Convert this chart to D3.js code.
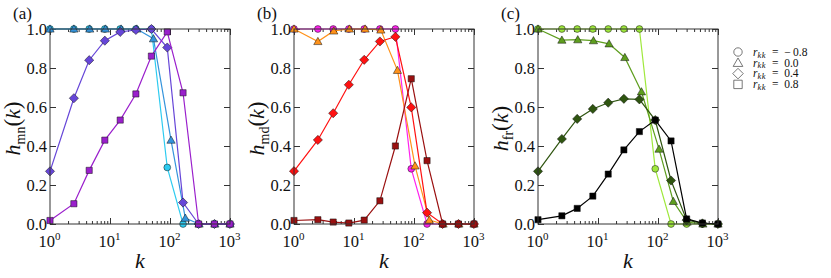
<!DOCTYPE html>
<meta charset="utf-8">
<head>
<script src="https://cdn.jsdelivr.net/npm/d3@7"></script>
<style>
body { margin: 0; background: #fff; }
.tick line { stroke: #333; }
.domain { display: none; }
</style>
</head>
<body>
<script>
// k values (bin centres)
var kBase = [1, 2.5, 4.5, 8.2, 14.8, 27, 49, 90, 165, 300, 550, 1000];
var kTri  = [1, 2.5, 4.6, 8.4, 15.3, 28, 53, 104, 180, 305, 560, 1000];

// (a) h_mn
var hmnCircle   = [1, 1, 1, 1, 1, 1, 1, 0.29, 0, 0, 0, 0];
var hmnTriangle = [1, 1, 1, 1, 1, 1, 0.95, 0.43, 0.03, 0, 0, 0];
var hmnDiamond  = [0.27, 0.645, 0.84, 0.94, 0.985, 0.995, 1.0, 0.905, 0.11, 0, 0, 0];
var hmnSquare   = [0.018, 0.104, 0.275, 0.43, 0.533, 0.667, 0.861, 0.985, 0.673, 0, 0, 0];

// (b) h_md
var hmdCircle   = [1, 1, 1, 1, 1, 1, 1, 0.283, 0, 0, 0, 0];
var hmdTriangle = [1, 0.936, 0.99, 1, 1, 0.995, 0.788, 0.298, 0.02, 0, 0, 0];
var hmdDiamond  = [0.271, 0.431, 0.568, 0.714, 0.842, 0.936, 0.96, 0.598, 0.058, 0, 0, 0];
var hmdSquare   = [0.018, 0.022, 0.01, 0.005, 0.02, 0.119, 0.40, 0.745, 0.325, 0, 0, 0];

// (c) h_fr
var hfrCircle   = [1, 1, 1, 1, 1, 1, 1, 0.283, 0, 0, 0, 0];
var hfrTriangle = [1, 0.943, 0.945, 0.94, 0.924, 0.854, 0.678, 0.384, 0.116, 0.01, 0, 0];
var hfrDiamond  = [0.27, 0.436, 0.539, 0.59, 0.622, 0.642, 0.639, 0.533, 0.223, 0.02, 0.003, 0];
var hfrSquare   = [0.022, 0.042, 0.08, 0.143, 0.256, 0.38, 0.474, 0.533, 0.426, 0.026, 0.005, 0];

var colorsA = ["#2ccbf0", "#3594dc", "#6646d8", "#9a1fcc"];
var colorsB = ["#ff22ee", "#ff921a", "#ff1111", "#9a1010"];
var colorsC = ["#9fe83c", "#5e9e1e", "#2f5510", "#000000"];

var shapes = ["circle", "triangle", "diamond", "square"];
var legendLabels = ["\u2212\u20090.8", "0.0", "0.4", "0.8"];
var yTicks = [0, 0.2, 0.4, 0.6, 0.8, 1.0];
var xTicks = [1, 10, 100, 1000];

var W = 831, H = 278;
var plotTop = 29, plotBottom = 224, plotW = 180;
var serif = "'Liberation Serif', 'Times New Roman', serif";

var panels = [
  {left: 50,  tag: "(a)", sub: "mn", ys: [hmnCircle, hmnTriangle, hmnDiamond, hmnSquare], colors: colorsA},
  {left: 294, tag: "(b)", sub: "md", ys: [hmdCircle, hmdTriangle, hmdDiamond, hmdSquare], colors: colorsB},
  {left: 538, tag: "(c)", sub: "fr", ys: [hfrCircle, hfrTriangle, hfrDiamond, hfrSquare], colors: colorsC}
];

function shapePath(type, s) {
  if (type == "circle") return "M" + s + ",0A" + s + "," + s + " 0 1,1 " + (-s) + ",0A" + s + "," + s + " 0 1,1 " + s + ",0Z";
  if (type == "square") return "M" + (-s) + "," + (-s) + "H" + s + "V" + s + "H" + (-s) + "Z";
  if (type == "diamond") { var d = s * 1.35; return "M0," + (-d) + "L" + d + ",0L0," + d + "L" + (-d) + ",0Z"; }
  var t = s * 1.15;
  return "M0," + (-t) + "L" + t + "," + (t * 0.75) + "L" + (-t) + "," + (t * 0.75) + "Z";
}
var markerSize = {circle: 3.4, triangle: 3.6, diamond: 3.4, square: 3.1};

var svg = d3.select("body").append("svg")
    .attr("width", W)
    .attr("height", H);

var minor = [];
[1, 10, 100].forEach(function(b) { for (var m = 2; m <= 9; m++) minor.push(b * m); });

panels.forEach(function(p) {
  var x = d3.scaleLog().domain([1, 1000]).range([p.left, p.left + plotW]);
  var y = d3.scaleLinear().domain([0, 1]).range([plotBottom, plotTop]);

  var g = svg.append("g");

  // ticks, inward on all sides
  g.append("g").attr("transform", "translate(0," + plotBottom + ")")
    .call(d3.axisBottom(x).tickValues(xTicks).tickSizeInner(-6).tickSizeOuter(0).tickPadding(11).tickFormat(""))
    .selectAll(".tick text").each(function(d) {
      var t = d3.select(this).style("font-size", "16.5px").attr("dx", "-1");
      t.append("tspan").text("10");
      t.append("tspan").attr("dy", "-7").style("font-size", "11px").text(Math.round(Math.log10(d)));
    });
  g.append("g").attr("transform", "translate(0," + plotBottom + ")")
    .call(d3.axisBottom(x).tickValues(minor).tickSizeInner(-3).tickSizeOuter(0).tickFormat(""));
  g.append("g").attr("transform", "translate(0," + plotTop + ")")
    .call(d3.axisTop(x).tickValues(xTicks).tickSizeInner(-6).tickSizeOuter(0).tickFormat(""));
  g.append("g").attr("transform", "translate(0," + plotTop + ")")
    .call(d3.axisTop(x).tickValues(minor).tickSizeInner(-3).tickSizeOuter(0).tickFormat(""));
  g.append("g").attr("transform", "translate(" + p.left + ",0)")
    .call(d3.axisLeft(y).tickValues(yTicks).tickSizeInner(-6).tickSizeOuter(0).tickPadding(3).tickFormat(d3.format(".1f")))
    .selectAll("text").style("font-size", "16.5px");
  g.append("g").attr("transform", "translate(" + (p.left + plotW) + ",0)")
    .call(d3.axisRight(y).tickValues(yTicks).tickSizeInner(-6).tickSizeOuter(0).tickFormat(""));

  // series
  p.ys.forEach(function(vals, si) {
    var ks = si == 1 ? kTri : kBase;
    var pts = vals.map(function(v, i) { return [ks[i], v]; });
    var line = d3.line().x(function(d) { return x(d[0]); }).y(function(d) { return y(d[1]); });
    g.append("path").datum(pts)
      .attr("d", line)
      .attr("fill", "none")
      .attr("stroke", p.colors[si])
      .attr("stroke-width", 1.2);
    g.selectAll(".m" + si).data(pts).enter().append("path")
      .attr("transform", function(d) { return "translate(" + x(d[0]) + "," + y(d[1]) + ")"; })
      .attr("d", shapePath(shapes[si], markerSize[shapes[si]]))
      .attr("fill", p.colors[si])
      .attr("stroke", "#111")
      .attr("stroke-width", 0.5);
  });

  // frame
  g.append("rect")
    .attr("x", p.left).attr("y", plotTop)
    .attr("width", plotW).attr("height", plotBottom - plotTop)
    .attr("fill", "none").attr("stroke", "#333").attr("stroke-width", 1);

  // labels
  svg.append("text").attr("x", p.left - 37).attr("y", 19)
    .style("font-size", "17px").text(p.tag);

  svg.append("text").attr("x", p.left + plotW / 2).attr("y", 268)
    .attr("text-anchor", "middle")
    .style("font-size", "22px").style("font-style", "italic").text("k");

  var yl = svg.append("text")
    .attr("transform", "translate(" + (p.left - 30) + "," + ((plotTop + plotBottom) / 2 + 2) + ")rotate(-90)")
    .attr("text-anchor", "middle")
    .style("font-size", "22px");
  yl.append("tspan").style("font-style", "italic").text("h");
  yl.append("tspan").attr("dy", 5).style("font-size", "14px").text(p.sub);
  yl.append("tspan").attr("dy", -5).style("font-size", "23px").text("(");
  yl.append("tspan").style("font-style", "italic").text("k");
  yl.append("tspan").style("font-size", "23px").text(")");
});

// legend
var lg = svg.append("g").attr("transform", "translate(738,52)");
shapes.forEach(function(s, i) {
  var row = lg.append("g").attr("transform", "translate(0," + (i * 10.8) + ")");
  row.append("path")
    .attr("d", shapePath(s, s == "diamond" ? 3.9 : 4.2))
    .attr("fill", "#fff").attr("stroke", "#555").attr("stroke-width", 0.8);
  var t = row.append("text").attr("x", 15).attr("y", 3.8).style("font-size", "11.5px");
  t.append("tspan").style("font-style", "italic").text("r");
  t.append("tspan").attr("dy", 1.8).style("font-size", "8.5px").style("font-style", "italic")
    .style("letter-spacing", "0.6px").text("kk");
  t.append("tspan").attr("dy", -1.8).text("\u2002=\u2002" + legendLabels[i]);
});

svg.selectAll("text").style("font-family", serif).style("fill", "#111");
</script>
</body>
